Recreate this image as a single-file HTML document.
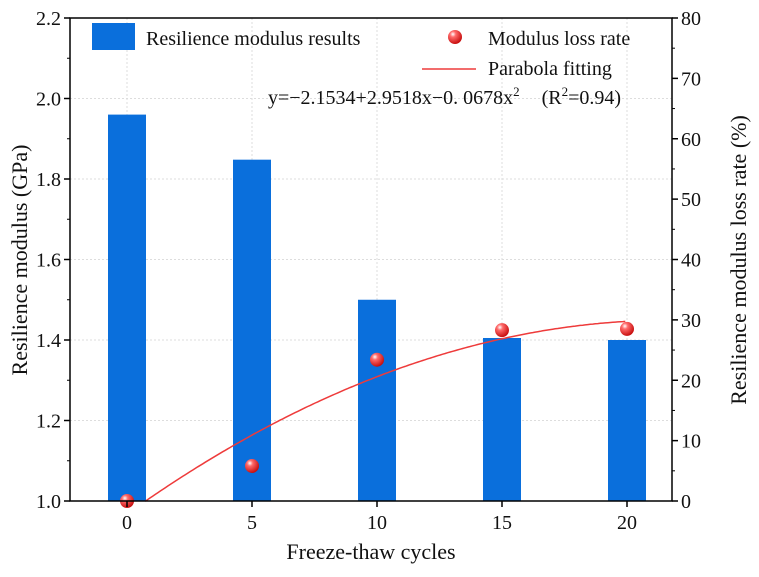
<!DOCTYPE html>
<html><head><meta charset="utf-8"><style>
body{margin:0;background:#fff}
svg text{font-family:"Liberation Serif",serif;fill:#111}
</style></head><body>
<svg id="chart" width="759" height="572" xmlns="http://www.w3.org/2000/svg">
<defs><radialGradient id="ball" cx="0.35" cy="0.3" r="0.7"><stop offset="0" stop-color="#fff"/><stop offset="0.3" stop-color="#ff6a6a"/><stop offset="1" stop-color="#c81010"/></radialGradient></defs>
<g id="grid"></g><g id="bars"></g><g id="curve"></g><g id="pts"></g><g id="axes"></g>
<g>
<rect x="92" y="23" width="43" height="27" fill="#0a6fdc"/>
<text x="146" y="45" font-size="20">Resilience modulus results</text>
<circle cx="455" cy="37" r="7" fill="url(#ball)"/>
<text x="488" y="45" font-size="20">Modulus loss rate</text>
<line x1="422" y1="69" x2="476" y2="69" stroke="#ee3b3b" stroke-width="1.5"/>
<text x="488" y="75" font-size="20">Parabola fitting</text>
<text x="268" y="104" font-size="20">y=−2.1534+2.9518x−0. 0678x<tspan font-size="13" dy="-8">2</tspan><tspan dy="8" dx="22">(R</tspan><tspan font-size="13" dy="-8">2</tspan><tspan dy="8">=0.94)</tspan></text>
</g>
<text x="371" y="559" font-size="22" text-anchor="middle">Freeze-thaw cycles</text>
<text transform="translate(27,260) rotate(-90)" font-size="22" text-anchor="middle">Resilience modulus (GPa)</text>
<text transform="translate(746,260) rotate(-90)" font-size="22" text-anchor="middle">Resilience modulus loss rate (%)</text>
</svg>
<script>
const cycles=[0,5,10,15,20];
const modulus=[1.96,1.848,1.50,1.405,1.40];
const lossRate=[0,5.8,23.4,28.3,28.5];
const xTicks=[0,5,10,15,20];
const yLeftTicks=[1.0,1.2,1.4,1.6,1.8,2.0,2.2];
const yRightTicks=[0,10,20,30,40,50,60,70,80];
const fitCoef=[-2.1534,2.9518,-0.0678];
const L=70,R=672,T=18,B=501;
const X=v=>127+(v-0)*25;
const YL=v=>B-(v-1.0)/(1.2)*(B-T);
const YR=v=>B-v/80*(B-T);
const NS="http://www.w3.org/2000/svg";
function mk(tag,attrs,parent){const e=document.createElementNS(NS,tag);for(const k in attrs)e.setAttribute(k,attrs[k]);document.getElementById(parent).appendChild(e);return e;}
yLeftTicks.forEach(v=>{const e=mk('line',{x1:L,x2:R,y1:YL(v),y2:YL(v),stroke:'#ddd','stroke-dasharray':'2,2'},'grid');

});
xTicks.forEach(v=>{const e=mk('line',{x1:X(v),x2:X(v),y1:T,y2:B,stroke:'#ddd','stroke-dasharray':'2,2'},'grid');

});
cycles.forEach((c,i)=>{const e=mk('rect',{x:X(c)-19,y:YL(modulus[i]),width:38,height:B-YL(modulus[i]),fill:'#0a6fdc'},'bars');

});
let d='';for(let x=0.73;x<=20.001;x+=0.1){const y=fitCoef[0]+fitCoef[1]*x+fitCoef[2]*x*x;d+=(d?'L':'M')+X(x).toFixed(1)+','+YR(y).toFixed(1);}
const cv=mk('path',{d:d,fill:'none',stroke:'#ee3b3b','stroke-width':1.5},'curve');


cycles.forEach((c,i)=>{const e=mk('circle',{cx:X(c),cy:YR(lossRate[i]),r:7,fill:'url(#ball)'},'pts');

});
const fr=mk('rect',{x:L,y:T,width:R-L,height:B-T,fill:'none',stroke:'#000','stroke-width':1.5},'axes');


yLeftTicks.forEach((v,i)=>{mk('line',{x1:L-6,x2:L,y1:YL(v),y2:YL(v),stroke:'#000','stroke-width':1.5},'axes');
if(i<yLeftTicks.length-1)mk('line',{x1:L-3,x2:L,y1:YL(v+0.1),y2:YL(v+0.1),stroke:'#000'},'axes');
const t=mk('text',{x:L-9,y:YL(v)+7,'font-size':20,'text-anchor':'end'},'axes');t.textContent=v.toFixed(1);

});
yRightTicks.forEach((v,i)=>{mk('line',{x1:R,x2:R+6,y1:YR(v),y2:YR(v),stroke:'#000','stroke-width':1.5},'axes');
if(i<yRightTicks.length-1)mk('line',{x1:R,x2:R+3,y1:YR(v+5),y2:YR(v+5),stroke:'#000'},'axes');
const t=mk('text',{x:R+9,y:YR(v)+7,'font-size':20},'axes');t.textContent=v;

});
xTicks.forEach(v=>{mk('line',{x1:X(v),x2:X(v),y1:B,y2:B+6,stroke:'#000','stroke-width':1.5},'axes');
const t=mk('text',{x:X(v),y:B+28,'font-size':20,'text-anchor':'middle'},'axes');t.textContent=v;

});
</script>
</body></html>
